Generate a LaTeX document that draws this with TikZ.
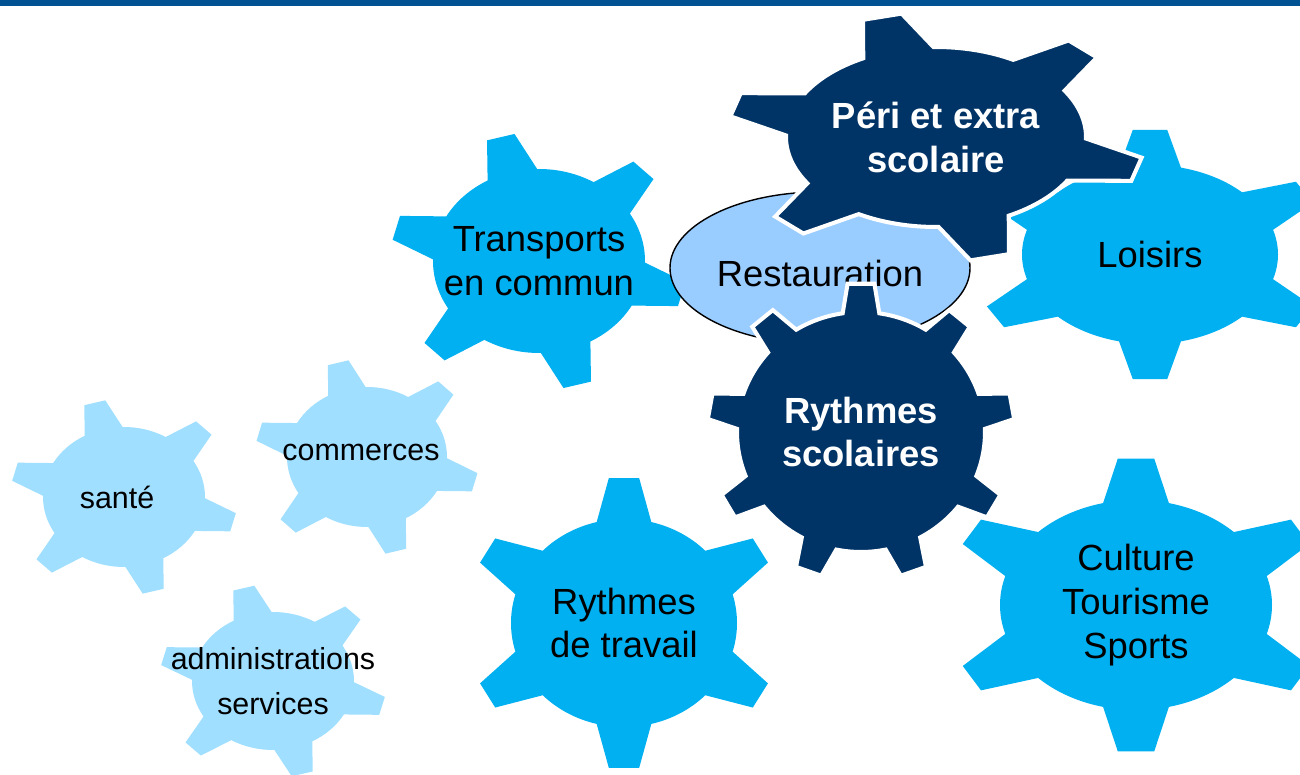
\documentclass[tikz,border=0pt]{standalone}
\usepackage{fontspec}
\setmainfont{Liberation Sans}
\usetikzlibrary{shapes.geometric}

\definecolor{headerblue}{RGB}{0,82,147}
\definecolor{darkgear}{RGB}{0,51,102}
\definecolor{midgear}{RGB}{0,176,240}
\definecolor{palegear}{RGB}{160,223,255}
\definecolor{mealblue}{RGB}{153,204,255}

\newcommand{\bigtext}{\fontsize{20.7}{25}\selectfont}
\newcommand{\smalltext}{\fontsize{17.3}{25.5}\selectfont}

\tikzset{
  gear teeth/.store in=\gTeeth,
  gear start/.store in=\gStart,
  gear tip/.store in=\gTip,
  gear root/.store in=\gRoot,
  gear crown/.store in=\gCrown,
  gear teeth=6, gear start=90, gear tip=1.4, gear root=14, gear crown=5.5,
  gear body/.style={fill=midgear},
  gear text/.style={font=\bigtext, align=center},
  pale gear/.style={gear body/.style={fill=palegear},
    gear text/.style={font=\smalltext, align=center}},
  dark gear/.style={gear body/.style={fill=darkgear, draw=white, line width=2.3pt},
    gear text/.style={font=\bigtext\bfseries, text=white, align=center}},
}

% \gear[options]{name}{centre}{x radius}{y radius}{text}
\newcommand{\gear}[6][]{%
  \begin{scope}[#1]
    \path[gear body, shift={#3}, xscale=#4, yscale=#5]
      ({\gStart-\gRoot}:1)
      \foreach \k in {1,...,\gTeeth}{
        -- ({\gStart+(\k-1)*360/\gTeeth-\gCrown}:\gTip)
        -- ({\gStart+(\k-1)*360/\gTeeth+\gCrown}:\gTip)
        -- ({\gStart+(\k-1)*360/\gTeeth+\gRoot}:1)
        arc[start angle={\gStart+(\k-1)*360/\gTeeth+\gRoot},
            end angle={\gStart+\k*360/\gTeeth-\gRoot}, radius=1cm]
      } -- cycle;
    \node[gear text] (#2) at #3 {#6};
  \end{scope}}

\begin{document}
\begin{tikzpicture}
  \useasboundingbox (0,0) rectangle (26,15.5);

  % Header bar
  \fill[headerblue] (0,15.38) rectangle (26,15.5);

  % Small gears
  \gear[pale gear, gear start=105, gear text/.append style={xshift=-0.14cm}]{sante}{(2.48,5.56)}{1.62}{1.40}{santé}
  \gear[pale gear, gear start=105, gear text/.append style={xshift=-0.12cm, yshift=0.1cm}]{commerces}{(7.34,6.36)}{1.60}{1.40}{commerces}
  \gear[pale gear, gear start=105]{admin}{(5.46,1.88)}{1.62}{1.38}{administrations\\services}

  % Outer gears
  \gear[gear start=105]{transports}{(10.78,10.28)}{2.12}{1.84}{Transports\\en commun}
  \gear{travail}{(12.48,3.04)}{2.26}{2.08}{Rythmes\\de travail}
  \gear{culture}{(22.72,3.40)}{2.72}{2.10}{Culture\\Tourisme\\Sports}
  \gear{loisirs}{(23.00,10.41)}{2.56}{1.79}{Loisirs}

  % Restauration
  \node[ellipse, draw=black, line width=0.8pt, fill=mealblue, inner sep=0pt,
    minimum width=6cm, minimum height=3.04cm, font=\bigtext,
    text height=0.76cm, text depth=0pt, xshift=0.04cm]
    (restauration) at (16.36,10.14) {Restauration};

  % Main gears
  \gear[dark gear, gear start=105, gear tip=1.39]{peri}{(18.72,12.76)}{3.00}{1.80}{Péri et extra\\scolaire}
  \gear[dark gear, gear teeth=9, gear tip=1.24, gear root=8.5, gear crown=5]{scolaires}{(17.22,6.86)}{2.48}{2.40}{Rythmes\\scolaires}
\end{tikzpicture}
\end{document}
